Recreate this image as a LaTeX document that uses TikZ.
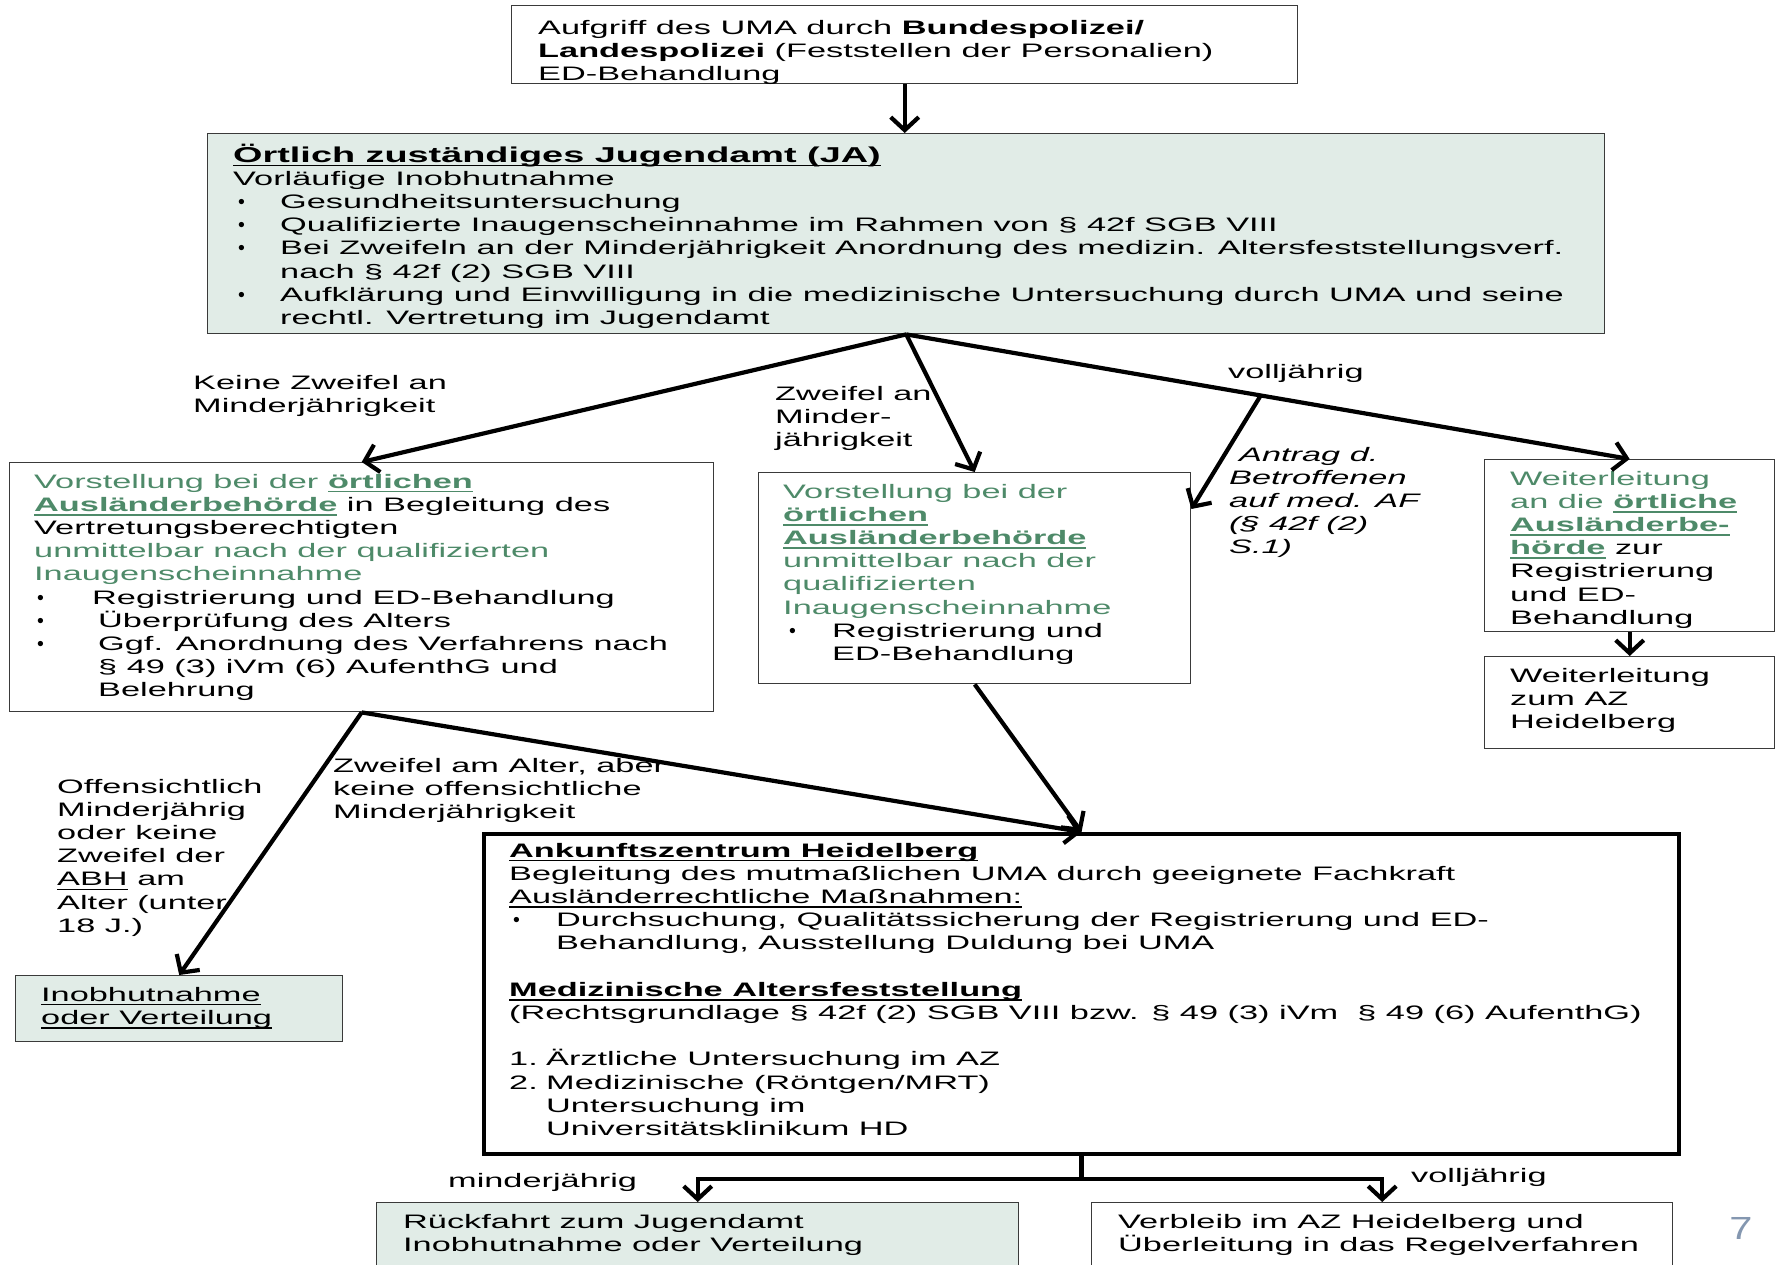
\documentclass[tikz,border=0pt]{standalone}
\usepackage{fontspec}
\setmainfont{Liberation Sans}[FakeStretch=1.76]
\newfontfamily\bulfont{Liberation Sans}
\newfontfamily\numfont{Liberation Sans}[FakeStretch=1.3]
\usetikzlibrary{arrows.meta}
\definecolor{jafill}{HTML}{E1ECE7}
\definecolor{grn}{HTML}{4E8A69}
\definecolor{bord}{HTML}{3A3A3A}
\definecolor{pgnum}{HTML}{8497B0}
\newsavebox\myulbox
\newcommand\uline[1]{\leavevmode\sbox\myulbox{#1}\rlap{\rule[-4.4pt]{\wd\myulbox}{1.6pt}}\usebox\myulbox}
\newcommand\normsize{\fontsize{19.5pt}{23.2pt}\selectfont}
\newcommand\bigsize{\fontsize{21.5pt}{23.2pt}\selectfont}
\newcommand\bul{{\bulfont •}}
\newcommand\gr[1]{\textcolor{grn}{#1}}
\newcommand\gul[1]{\textcolor{grn}{\textbf{\uline{#1}}}}
\newcommand\bitem[2]{\leavevmode\hspace*{#1}\makebox[#2][l]{\bul}}
\begin{document}
\begin{tikzpicture}[x=1pt,y=-1pt,
  bx/.style={draw=bord,line width=1.4pt,inner sep=0pt,anchor=north west},
  fbx/.style={bx,fill=jafill},
  txt/.style={anchor=base west,inner sep=0pt,align=flush left,font=\normsize,text width=#1},
  txt/.default=300pt,
  conn/.style={line width=4.2pt,line join=miter,-{Straight Barb[length=13pt,width=28pt]}},
  plain/.style={line width=4.2pt}]
\useasboundingbox (0,0) rectangle (1780,1264);
\clip (0,0) rectangle (1780,1264);
% boxes
\node[bx,minimum width=786pt,minimum height=78pt] (top) at (511,5) {};
\node[fbx,minimum width=1397pt,minimum height=200pt] (ja) at (207,133) {};
\node[bx,minimum width=704pt,minimum height=249pt] (lbox) at (9,462) {};
\node[bx,minimum width=432pt,minimum height=211pt] (mbox) at (758,472) {};
\node[bx,minimum width=290pt,minimum height=172pt] (r1) at (1484,459) {};
\node[bx,minimum width=290pt,minimum height=92pt] (r2) at (1484,656) {};
\node[fbx,minimum width=327pt,minimum height=66pt] (inob) at (15,975) {};
\node[bx,draw=black,line width=4pt,minimum width=1195pt,minimum height=320pt] (az) at (482,832) {};
\node[fbx,minimum width=642pt,minimum height=90pt] (bl) at (376,1202) {};
\node[bx,minimum width=581pt,minimum height=90pt] (brb) at (1091,1202) {};
% texts in boxes
\node[txt=750pt] (ttop) at (538,34) {Aufgriff des UMA durch \textbf{Bundespolizei/}\\
  \textbf{Landespolizei} (Feststellen der Personalien)\\
  ED-Behandlung};
\node[txt=1360pt] (tja) at (233,162) {{\bigsize\textbf{\uline{Örtlich zuständiges Jugendamt (JA)}}}\\
  Vorläufige Inobhutnahme\\
  \bitem{5pt}{42pt}Gesundheitsuntersuchung\\
  \bitem{5pt}{42pt}Qualifizierte Inaugenscheinnahme im Rahmen von § 42f SGB VIII\\
  \bitem{5pt}{42pt}Bei Zweifeln an der Minderjährigkeit Anordnung des medizin. Altersfeststellungsverf.\\
  \hspace*{47pt}nach § 42f (2) SGB VIII\\
  \bitem{5pt}{42pt}Aufklärung und Einwilligung in die medizinische Untersuchung durch UMA und seine\\
  \hspace*{47pt}rechtl. Vertretung im Jugendamt};
\node[txt=670pt] (tl) at (34,488) {\gr{Vorstellung bei der} \gul{örtlichen}\\
  \gul{Ausländerbehörde} in Begleitung des\\
  Vertretungsberechtigten\\
  \gr{unmittelbar nach der qualifizierten}\\
  \gr{Inaugenscheinnahme}\\
  \bitem{3pt}{55pt}Registrierung und ED-Behandlung\\
  \bitem{3pt}{61pt}Überprüfung des Alters\\
  \bitem{3pt}{61pt}Ggf. Anordnung des Verfahrens nach\\
  \hspace*{64pt}§ 49 (3) iVm (6) AufenthG und\\
  \hspace*{64pt}Belehrung};
\node[txt=400pt] (tm) at (783,498) {\gr{Vorstellung bei der}\\
  \gul{örtlichen}\\
  \gul{Ausländerbehörde}\\
  \gr{unmittelbar nach der}\\
  \gr{qualifizierten}\\
  \gr{Inaugenscheinnahme}\\
  \bitem{6pt}{43pt}Registrierung und\\
  \hspace*{49pt}ED-Behandlung};
\node[txt=262pt] (tr1) at (1510,485) {\gr{Weiterleitung}\\
  \gr{an die} \gul{örtliche}\\
  \gul{Ausländerbe-}\\
  \gul{hörde} zur\\
  Registrierung\\
  und ED-\\
  Behandlung};
\node[txt=262pt] (tr2) at (1510,682) {Weiterleitung\\zum AZ\\Heidelberg};
\node[txt=295pt] (tinob) at (41,1001) {\uline{Inobhutnahme}\\\uline{oder Verteilung}};
\node[txt=1150pt] (taz) at (509,857) {\textbf{\uline{Ankunftszentrum Heidelberg}}\\
  Begleitung des mutmaßlichen UMA durch geeignete Fachkraft\\
  \uline{Ausländerrechtliche Maßnahmen:}\\
  \bitem{4pt}{43pt}Durchsuchung, Qualitätssicherung der Registrierung und ED-\\
  \hspace*{47pt}Behandlung, Ausstellung Duldung bei UMA\\
  \mbox{}\\
  \textbf{\uline{Medizinische Altersfeststellung}}\\
  (Rechtsgrundlage § 42f (2) SGB VIII bzw. § 49 (3) iVm \ § 49 (6) AufenthG)\\
  \mbox{}\\
  \makebox[37pt][l]{1.}Ärztliche Untersuchung im AZ\\
  \makebox[37pt][l]{2.}Medizinische (Röntgen/MRT)\\
  \hspace*{37pt}Untersuchung im\\
  \hspace*{37pt}Universitätsklinikum HD};
\node[txt=600pt] (tbl) at (403,1228) {Rückfahrt zum Jugendamt\\Inobhutnahme oder Verteilung};
\node[txt=545pt] (tbr) at (1118,1228) {Verbleib im AZ Heidelberg und\\Überleitung in das Regelverfahren};
% labels
\node[txt=300pt] (lkz) at (193,389) {Keine Zweifel an\\Minderjährigkeit};
\node[txt=200pt] (lzm) at (775,400) {Zweifel an\\Minder-\\jährigkeit};
\node[txt=200pt] (lvj) at (1228,378) {volljährig};
\node[txt=240pt,font=\normsize\itshape] (lan) at (1229,461) {\hspace*{10pt}Antrag d.\\Betroffenen\\auf med. AF\\(§ 42f (2)\\S.1)};
\node[txt=260pt] (loff) at (57,793) {Offensichtlich\\Minderjährig\\oder keine\\Zweifel der\\\uline{ABH} am\\Alter (unter\\18 J.)};
\node[txt=400pt] (lzaa) at (333,772) {Zweifel am Alter, aber\\keine offensichtliche\\Minderjährigkeit};
\node[txt=200pt] (lmin) at (448,1187) {minderjährig};
\node[txt=200pt] (lvj2) at (1411,1182) {volljährig};
\node[inner sep=0pt,font=\numfont\fontsize{32pt}{32pt}\selectfont,text=pgnum] (pg) at (1741,1228) {7};
% connectors
\draw[conn] (top.south) -- (top.south |- ja.north);
\draw[conn] (ja.south) -- (lbox.north);
\draw[conn] (ja.south) -- (mbox.north);
\draw[conn] (ja.south) -- coordinate[pos=0.49] (brk) (r1.north);
\coordinate (mtip) at ([yshift=-37pt]mbox.north east);
\draw[conn] (brk) -- (mtip);
\draw[conn] (r1.south) -- (r2.north);
\draw[conn] (lbox.south) -- (inob.north);
\draw[conn] (lbox.south) -- (az.north);
\draw[conn] (mbox.south) -- (az.north);
\draw[plain] (az.south) -- ++(0,23) coordinate (split);
\draw[conn] (split) -| (bl.north);
\draw[conn] (split) -| (brb.north);
\end{tikzpicture}
\end{document}
